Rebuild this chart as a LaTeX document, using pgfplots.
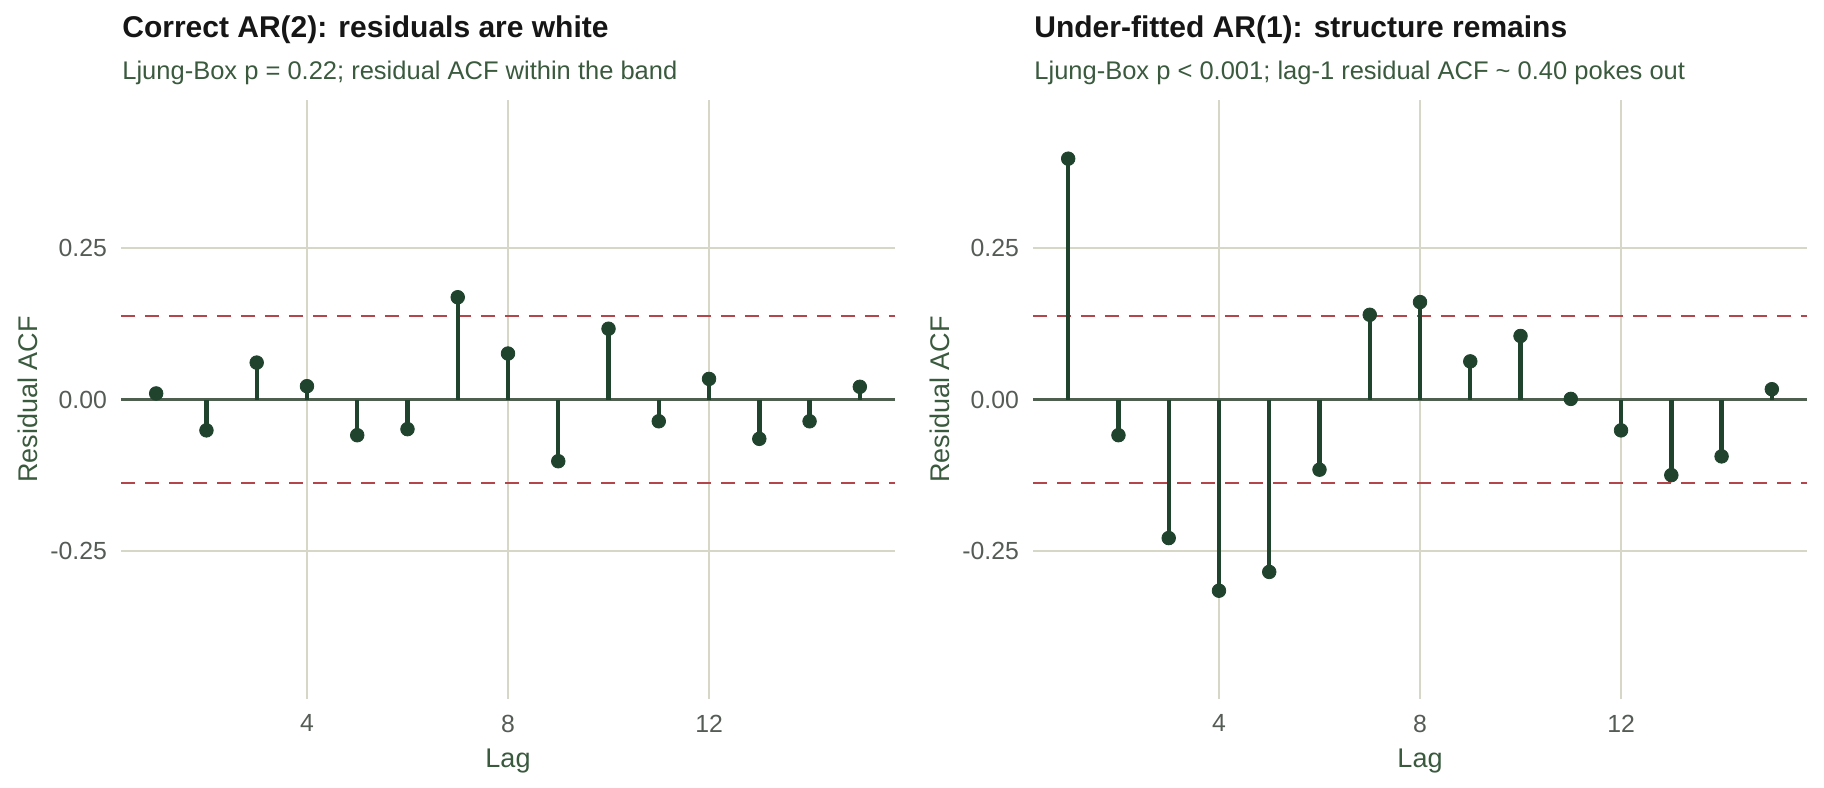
\documentclass[border=0pt]{standalone}
\usepackage{pgfplots}
\usepackage{pgfplotstable}
\pgfplotsset{compat=1.18}
\usepackage{fontspec}
\setmainfont{Liberation Sans}

\definecolor{stemc}{HTML}{1F432C}
\definecolor{zeroc}{HTML}{4E5F50}
\definecolor{gridc}{HTML}{D6D7C6}
\definecolor{bandc}{HTML}{B4464B}
\definecolor{tickc}{HTML}{555B55}
\definecolor{labc}{HTML}{3A5A3E}
\definecolor{titlec}{HTML}{161616}

% residual autocorrelations, correctly specified AR(2)
\pgfplotstableread{
lag acf
1 0.010
2 -0.051
3 0.061
4 0.022
5 -0.059
6 -0.049
7 0.169
8 0.076
9 -0.102
10 0.117
11 -0.036
12 0.034
13 -0.065
14 -0.036
15 0.021
}\arTwo

% residual autocorrelations, under-fitted AR(1)
\pgfplotstableread{
lag acf
1 0.398
2 -0.059
3 -0.229
4 -0.316
5 -0.285
6 -0.116
7 0.140
8 0.161
9 0.063
10 0.105
11 0.001
12 -0.051
13 -0.125
14 -0.094
15 0.017
}\arOne

\pgfplotsset{acfpanel/.style={
  scale only axis, width=387pt, height=299.5pt,
  anchor=south west,
  xmin=0.3, xmax=15.7, ymin=-0.495, ymax=0.495,
  xtick={4,8,12}, xticklabels={4,8,12},
  ytick={-0.25,0,0.25}, yticklabels={-0.25,0.00,0.25},
  axis lines*=left, axis line style={draw=none},
  major tick style={draw=none},
  xmajorgrids, ymajorgrids,
  x grid style={color=gridc, line width=0.75pt},
  y grid style={color=gridc, line width=1pt},
  tick label style={font=\fontsize{12.4}{14}\selectfont, text=tickc},
  yticklabel style={xshift=-3.5pt},
  xticklabel style={yshift=-4.4pt},
  every axis x label/.style={at={(axis description cs:0.5,-0.1142)}, anchor=base,
    font=\fontsize{13.5}{16}\selectfont, text=labc},
  every axis y label/.style={at={(axis description cs:-0.1085,0.5)}, rotate=90, anchor=base,
    font=\fontsize{13.5}{16}\selectfont, text=labc},
  xlabel={Lag}, ylabel={Residual ACF},
  clip=false,
}}

\newcommand{\acfbody}[1]{%
  \addplot[zeroc, line width=1.1pt] coordinates {(0.3,0) (15.7,0)};
  \addplot[bandc, line width=1pt, dash pattern=on 7pt off 5pt] coordinates {(0.3,0.1386) (15.7,0.1386)};
  \addplot[bandc, line width=1pt, dash pattern=on 7pt off 5pt] coordinates {(0.3,-0.1386) (15.7,-0.1386)};
  \addplot[ycomb, color=stemc, line width=2.2pt] table[x=lag, y=acf] {#1};
  \addplot[only marks, color=stemc, mark=*, mark size=3.4pt, mark options={fill=stemc, draw=none}] table[x=lag, y=acf] {#1};
}

\begin{document}
\begin{tikzpicture}
\path[use as bounding box] (0,0) rectangle (912pt,393.5pt);

\begin{axis}[acfpanel, at={(60.5pt,44pt)}]
  \acfbody{\arTwo}
\end{axis}

\begin{axis}[acfpanel, at={(516.5pt,44pt)}]
  \acfbody{\arOne}
\end{axis}

\node[anchor=base west, inner sep=0, font=\bfseries\fontsize{15}{18}\selectfont, text=titlec]
  at (61pt,374.85pt) {Correct AR(2): residuals are white};
\node[anchor=base west, inner sep=0, font=\fontsize{12.75}{15}\selectfont, text=labc]
  at (61pt,353.85pt) {Ljung-Box p = 0.22; residual ACF within the band};

\node[anchor=base west, inner sep=0, font=\bfseries\fontsize{15}{18}\selectfont, text=titlec]
  at (517pt,374.85pt) {Under-fitted AR(1): structure remains};
\node[anchor=base west, inner sep=0, font=\fontsize{12.75}{15}\selectfont, text=labc]
  at (517pt,353.85pt) {Ljung-Box p < 0.001; lag-1 residual ACF \textasciitilde{} 0.40 pokes out};
\end{tikzpicture}
\end{document}
